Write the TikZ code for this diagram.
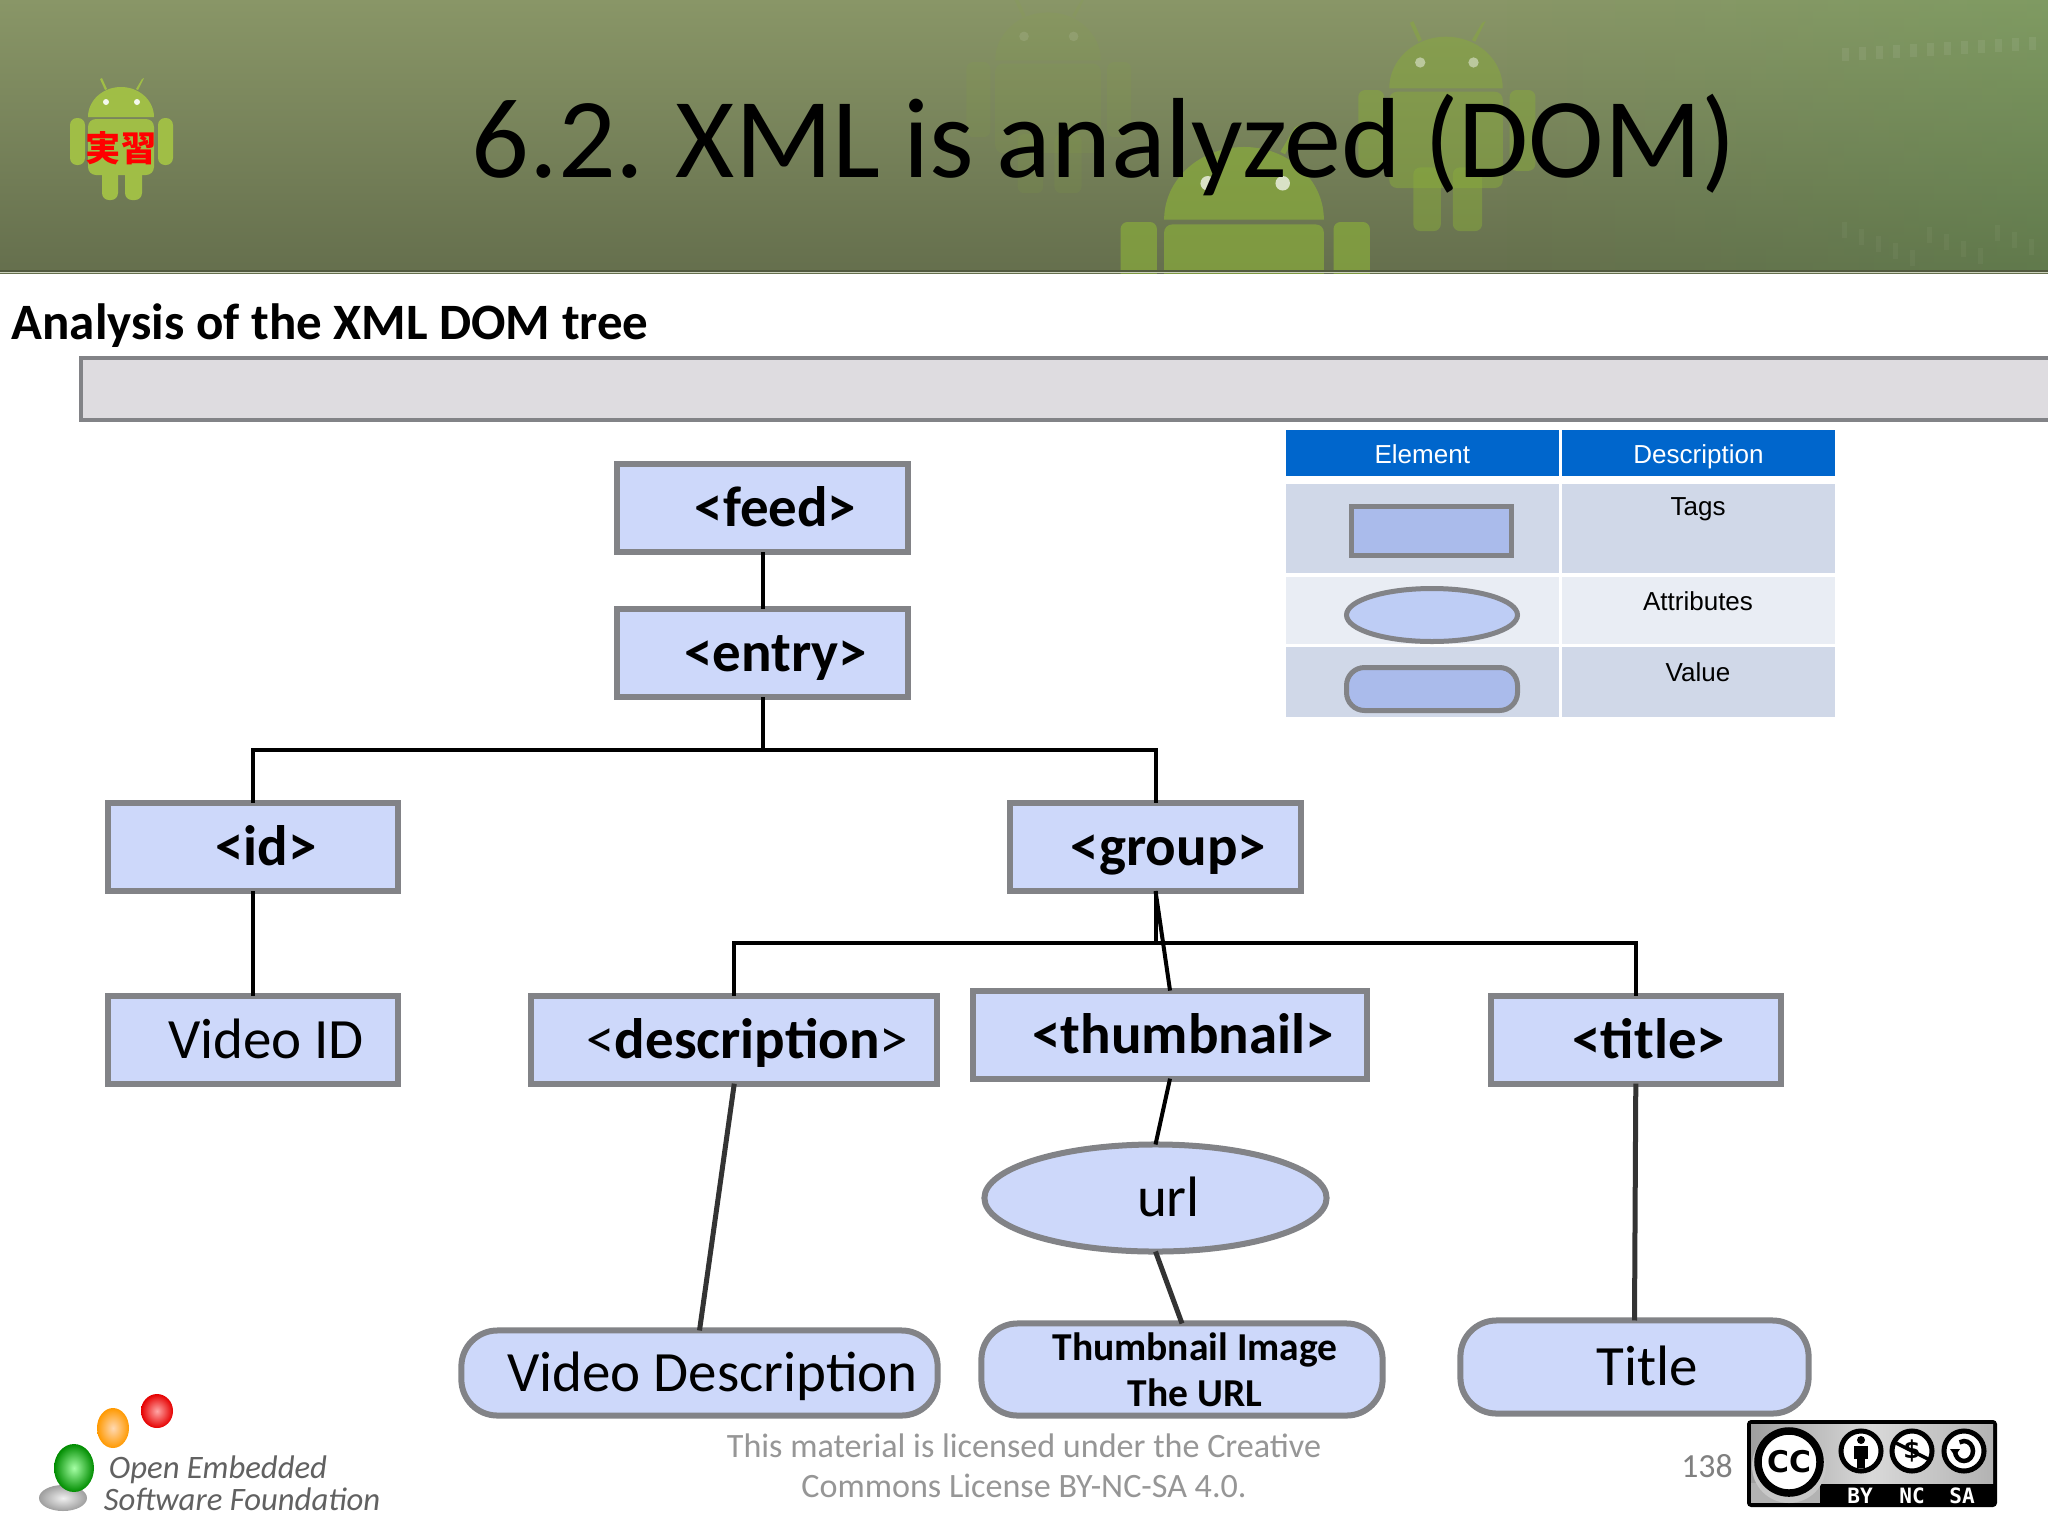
\documentclass[tikz,border=0pt]{standalone}
\usepackage{fontspec}
\setmainfont{Carlito}
\newfontfamily\tablefont{Liberation Sans}
\newfontfamily\kanjifont{Noto Sans CJK JP}
\newfontfamily\badgefont{DejaVu Sans}
\newfontfamily\badgemono{DejaVu Sans Mono}
\usepackage{tikz}
\usetikzlibrary{shapes.geometric, positioning, calc, fadings}
\definecolor{barkgreen}{RGB}{137,150,103}
\definecolor{mossgreen}{RGB}{101,111,77}
\definecolor{droidgreen}{RGB}{136,170,60}
\definecolor{logogreen}{RGB}{160,190,70}
\definecolor{boxfill}{RGB}{205,216,250}
\definecolor{boxline}{RGB}{130,131,135}
\definecolor{legendfill}{RGB}{170,187,235}
\definecolor{legendoval}{RGB}{190,205,245}
\definecolor{rowdark}{RGB}{208,216,232}
\definecolor{rowlight}{RGB}{233,237,244}
\definecolor{headblue}{RGB}{0,102,204}
\definecolor{footgray}{RGB}{150,150,150}
\definecolor{barfill}{RGB}{222,220,224}
\newcommand{\droideye}{0.8}
\tikzset{
    plainbox/.style={
        rectangle,
        draw=boxline,
        fill=boxfill,
        line width=0.6mm,
        inner sep=0pt,
        outer sep=0pt,
        minimum width=29mm,
        minimum height=8.8mm,
        font=\fontsize{16.2}{19}\selectfont,
        execute at begin node=\hspace*{2.6mm},
    },
    tagbox/.style={
        plainbox,
        text height=10.7pt,
        text depth=0pt,
    },
    attrbox/.style={
        tagbox,
        ellipse,
    },
    valuebox/.style={
        tagbox,
        rounded corners=3.6mm,
    },
    linkline/.style={
        draw=black,
        line width=0.4mm,
    },
    softline/.style={
        draw=black!80,
        line width=0.5mm,
    },
    cellhead/.style={
        fill=headblue,
        text=white,
        inner sep=0pt,
        outer sep=0pt,
        minimum height=4.6mm,
        text height=7.6pt,
        text depth=1.6pt,
        font=\tablefont\fontsize{7.4}{9}\selectfont,
    },
    celltext/.style={
        inner sep=0pt,
        text height=5.6pt,
        text depth=1.6pt,
        font=\tablefont\fontsize{7.4}{9}\selectfont,
    },
    footnote/.style={
        inner sep=0pt,
        text=footgray,
        font=\fontsize{9.7}{11.4}\selectfont,
    },
    ccicon/.style={
        circle,
        draw=black,
        fill=white,
        line width=0.5mm,
        inner sep=0pt,
        minimum size=4mm,
    },
    cclabel/.style={
        inner sep=0pt,
        text=white,
        font=\badgemono\bfseries\fontsize{6}{7}\selectfont,
    },
    droid/.pic={
        \fill[pic actions] (-33,-1) arc[start angle=180,end angle=360,x radius=33,y radius=30] -- cycle;
        \fill[pic actions,rounded corners=0.8mm] (-33,1) -- (33,1) -- (33,57) -- (-33,57) -- cycle;
        \fill[pic actions,rounded corners=0.7mm] (-51,0) rectangle (-36,47);
        \fill[pic actions,rounded corners=0.7mm] (37,0) rectangle (52,47);
        \fill[pic actions,rounded corners=0.7mm] (-19,45) rectangle (-3,82);
        \fill[pic actions,rounded corners=0.7mm] (4,45) rectangle (21,82);
        \fill[pic actions] (-21,-39) -- (-19,-40) -- (-14,-29) -- (-16,-28) -- cycle;
        \fill[pic actions] (21,-39) -- (23,-40) -- (17,-28) -- (15,-29) -- cycle;
        \fill[white,opacity=\droideye] (-15,-16) circle (3);
        \fill[white,opacity=\droideye] (16,-16) circle (3);
    },
}

\begin{document}
\begin{tikzpicture}[x=0.01cm,y=-0.01cm]
    \useasboundingbox (0,0) rectangle (2048,1536);
    \fill[white] (0,0) rectangle (2048,1536);

    \begin{scope}
        \clip (0,0) rectangle (2048,273);
        \shade[top color=barkgreen,bottom color=mossgreen] (0,0) rectangle (2048,273);
        \fill[green!45!gray,opacity=0.14,path fading=west] (1500,0) rectangle (2048,273);
        \foreach \k in {0,...,11} {
            \fill[white,opacity=0.07] ({1842+\k*17},{48-\k}) rectangle +(7,13);
            \fill[white,opacity=0.04] ({1842+\k*17},{222+mod(\k*7,30)}) rectangle +(5,16);
        }
        \renewcommand{\droideye}{0.1}
        \pic[fill=droidgreen,fill opacity=0.12,scale=1.6] at (1048,62) {droid};
        \renewcommand{\droideye}{0.45}
        \pic[fill=droidgreen,fill opacity=0.5,scale=1.72] at (1446,90) {droid};
        \renewcommand{\droideye}{0.7}
        \pic[fill=droidgreen,fill opacity=0.72,scale=2.42] at (1244,222) {droid};
        \draw[mossgreen!80!black,line width=0.2mm] (0,270.5) -- (2048,270.5);
        \draw[barkgreen!45!white,line width=0.1mm] (0,272.5) -- (2048,272.5);
    \end{scope}
    \renewcommand{\droideye}{0.9}
    \pic[fill=logogreen] at (121,118) {droid};
    \node[inner sep=0pt,text=red,font=\kanjifont\bfseries\fontsize{10}{12}\selectfont] (logotext) at (121,148) {実習};

    \node[anchor=base west,inner sep=0pt,font=\fontsize{32.4}{38}\selectfont] (slidetitle) at (471,177) {\spaceskip 0.2em 6.2. XML is analyzed (DOM)};
    \node[anchor=base west,inner sep=0pt,font=\bfseries\fontsize{14.5}{17}\selectfont] (subtitle) at (11,339) {Analysis of the XML DOM tree};
    \draw[fill=barfill,draw=boxline,line width=0.4mm] (81,358) rectangle (2060,420);

    \node[tagbox] (feed) at (762.5,508) {\textbf{<feed>}};
    \node[tagbox] (entry) [below=5.7mm of feed] {\textbf{<entry>}};
    \node[tagbox] (id) at (253,847) {\textbf{<id>}};
    \node[tagbox] (group) [right=61.2mm of id] {\textbf{<group>}};
    \node[tagbox] (videoid) [below=10.45mm of id] {Video ID};
    \node[tagbox,minimum width=40.6mm] (description) [right=13.3mm of videoid] {<\textbf{description}>};
    \node[tagbox,minimum width=39.3mm,yshift=0.5mm] (thumbnail) [right=3.6mm of description] {\textbf{<thumbnail>}};
    \node[tagbox] (title) [right=12.4mm of thumbnail,yshift=-0.5mm] {\textbf{<title>}};
    \node[attrbox,minimum width=34.2mm,minimum height=10.7mm] (url) at (1155.5,1198) {url};
    \node[valuebox,minimum width=47.6mm,minimum height=8.5mm] (videodesc) at (699.5,1373) {Video Description};
    \node[plainbox,rounded corners=3.6mm,minimum width=40.1mm,minimum height=9.2mm,align=center,font=\bfseries\fontsize{11.25}{13}\selectfont] (thumbimage) at (1182,1369.5) {Thumbnail Image\\The URL};
    \node[valuebox,minimum width=34.8mm,minimum height=9.3mm] (titlevalue) at (1634.5,1367) {Title};

    \coordinate (entry-bus) at ($(entry.south)+(0,53)$);
    \coordinate (group-bus) at ($(group.south)+(0,52)$);
    \draw[linkline] (feed.south) -- (entry.north);
    \draw[linkline] (entry.south) -- (entry-bus);
    \draw[linkline] (id.north) |- (entry-bus) -| (group.north);
    \draw[linkline] (id.south) -- (videoid.north);
    \draw[linkline] (group.south) -- (group-bus);
    \draw[linkline] (description.north) |- (group-bus) -| (title.north);
    \draw[linkline] (group.south) -- (thumbnail.north);
    \draw[linkline] (thumbnail.south) -- (url.north);
    \draw[softline] (url.south) -- (thumbimage.north);
    \draw[softline] (description.south) -- (videodesc.north);
    \draw[softline] (title.south) -- (titlevalue.north);

    \node[cellhead,minimum width=27.3mm] (headelement) at (1422.3,453) {Element};
    \node[cellhead,minimum width=27.3mm] (headdescription) [right=0.3mm of headelement] {Description};
    \fill[rowdark] (1286,484) rectangle (1559,573);
    \fill[rowdark] (1562,484) rectangle (1835,573);
    \fill[rowlight] (1286,577) rectangle (1559,644);
    \fill[rowlight] (1562,577) rectangle (1835,644);
    \fill[rowdark] (1286,647) rectangle (1559,717);
    \fill[rowdark] (1562,647) rectangle (1835,717);
    \draw[draw=boxline,fill=legendfill,line width=0.5mm] (1351.5,506.5) rectangle (1511.5,555.5);
    \draw[draw=boxline,fill=legendoval,line width=0.5mm] (1432,615) ellipse [x radius=85.5,y radius=26.5];
    \draw[draw=boxline,fill=legendfill,line width=0.5mm,rounded corners=1.8mm] (1346.5,667.5) rectangle (1517.5,710.5);
    \node[celltext] (tagstext) at (1698,508.5) {Tags};
    \node[celltext] (attrtext) at (1698,603.5) {Attributes};
    \node[celltext] (valuetext) at (1698,674.5) {Value};

    \node[footnote,align=center] (license) at (1024,1466) {This material is licensed under the Creative\\Commons License BY-NC-SA 4.0.};
    \node[footnote,text=black!50,font=\fontsize{9.6}{11}\selectfont] (pagenum) at (1707,1466) {138};

    \shade[inner color=black!6,outer color=black!38] (63,1498) ellipse [x radius=24,y radius=13];
    \shade[inner color=green!35!white,outer color=green!55!black] (74,1468) ellipse [x radius=20,y radius=24];
    \shade[inner color=orange!30!white,outer color=orange!80!yellow] (113,1428) ellipse [x radius=16,y radius=20];
    \shade[inner color=red!35!white,outer color=red!90!black] (157,1411) ellipse [x radius=16,y radius=17];
    \node[inner sep=0pt,text=black!62,font=\itshape\fontsize{9.3}{11}\selectfont] (oesftop) at (218,1470) {Open Embedded};
    \node[inner sep=0pt,text=black!62,font=\itshape\fontsize{9.3}{11}\selectfont] (oesfbottom) at (242,1499) {Software Foundation};

    \fill[black,rounded corners=0.4mm] (1747,1420) rectangle (1997,1507);
    \shade[left color=black!38,right color=black!30,middle color=black!15] (1751,1424) rectangle (1993,1483);
    \fill[black!30] (1751,1483) rectangle (1820,1503);
    \fill[black!22] (1789,1466) circle (37);
    \node[ccicon,minimum size=6.2mm,line width=0.75mm,font=\badgefont\bfseries\fontsize{8.5}{9}\selectfont] (ccmark) at (1789,1462) {CC};
    \node[ccicon] (bymark) at (1861,1451) {};
    \node[ccicon,font=\badgefont\bfseries\fontsize{7}{9}\selectfont] (ncmark) at (1912,1451) {\$};
    \node[ccicon] (samark) at (1964,1451) {};
    \fill[black] ($(bymark.center)+(0,-11)$) circle (4);
    \fill[black] ($(bymark.center)+(-7,-5)$) rectangle ($(bymark.center)+(7,8)$);
    \fill[black] ($(bymark.center)+(-4,7)$) rectangle ($(bymark.center)+(4,17)$);
    \draw[black,line width=0.35mm] ($(ncmark.center)+(-16,-8)$) -- ($(ncmark.center)+(16,8)$);
    \draw[black,line width=0.45mm] ($(samark.center)+(-9,0)$) arc[start angle=180,end angle=-120,x radius=9,y radius=10];
    \fill[black] ($(samark.center)+(-14,-2)$) -- ($(samark.center)+(-4,-2)$) -- ($(samark.center)+(-9,5)$) -- cycle;
    \node[cclabel] (bylabel) at (1860,1496) {BY};
    \node[cclabel] (nclabel) at (1912,1496) {NC};
    \node[cclabel] (salabel) at (1962,1496) {SA};
\end{tikzpicture}
\end{document}
